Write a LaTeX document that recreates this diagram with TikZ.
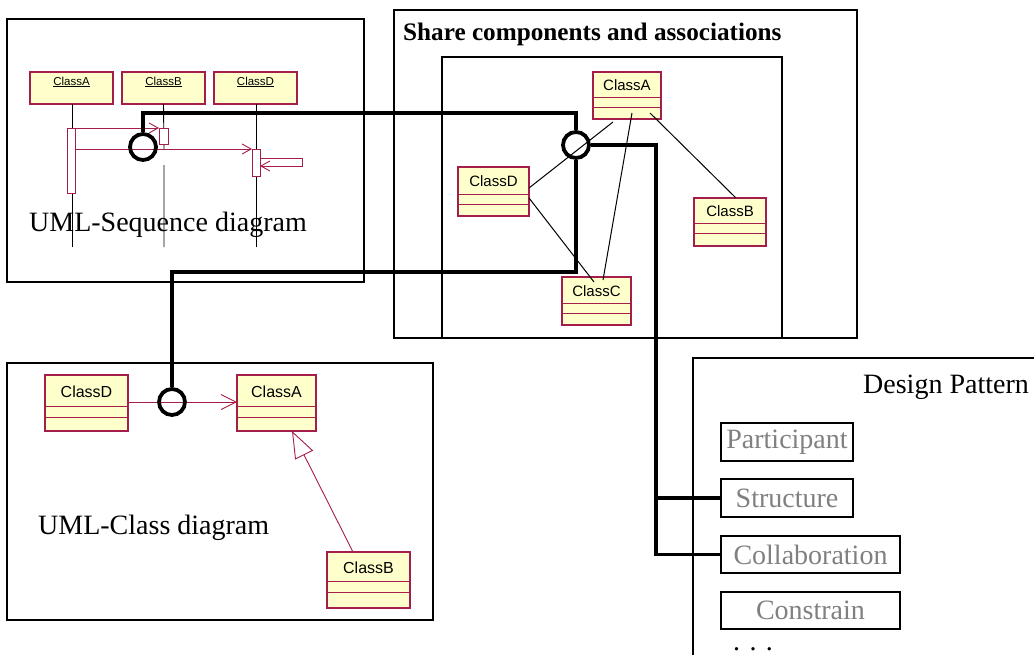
\documentclass[tikz,border=0pt]{standalone}
\usepackage{fontspec}
\setmainfont{Liberation Serif}
\setsansfont{Liberation Sans}
\usetikzlibrary{arrows.meta,calc}
\definecolor{umlred}{RGB}{165,30,75}
\definecolor{umlfill}{RGB}{255,255,204}
\definecolor{dpgray}{RGB}{128,128,128}
\tikzset{
  frame/.style={draw=black,line width=1.1pt},
  clsbox/.style={draw=umlred,fill=umlfill,line width=1.1pt,inner sep=0pt,outer sep=0pt,rectangle},
  clsline/.style={draw=umlred,line width=0.9pt},
  clstext/.style={font=\sffamily\fontsize{16}{18}\selectfont,inner sep=0pt},
  seqtext/.style={font=\sffamily\fontsize{11.5}{13}\selectfont,inner sep=0pt},
  actbox/.style={draw=umlred,fill=white,line width=1pt,inner sep=0pt,outer sep=0pt,rectangle},
  msg/.style={draw=umlred,line width=0.9pt,-{Straight Barb[length=9pt,width=10pt]}},
  life/.style={draw=black,line width=0.9pt},
  assoc/.style={draw=black,line width=1pt},
  hub/.style={circle,draw=black,line width=3.8pt,minimum size=26pt,inner sep=0pt},
  link/.style={draw=black,line width=3.8pt},
  big/.style={font=\fontsize{28}{30}\selectfont,inner sep=0pt},
  dpbox/.style={draw=black,line width=1.2pt,text=dpgray,font=\fontsize{28}{30}\selectfont,inner sep=0pt,rectangle},
}
\newcommand\umlclass[9]{%
  \node[clsbox,minimum width={#4-#2},minimum height={#5-#3}] (#1) at ({(#2+#4)/2},{(#3+#5)/2}) {};
  \draw[clsline] (#1.west |- 0,#6) -- (#1.east |- 0,#6) (#1.west |- 0,#7) -- (#1.east |- 0,#7);
  \node[clstext,#9] at ({(#2+#4)/2},{(#3+#6)/2+1}) {#8};
}
\begin{document}
\begin{tikzpicture}[x=1pt,y=-1pt]
\useasboundingbox (0,0) rectangle (1034,654);
\fill[white] (0,0) rectangle (1034,654);

% ---------- frames ----------
\draw[frame] (7,19) rectangle (364,282);
\draw[frame] (394,10) rectangle (857,338);
\draw[frame] (442,57) rectangle (782,338);
\draw[frame] (7,363) rectangle (433,620);
\draw[frame] (693,670) -- (693,358) -- (1040,358);

% ---------- titles ----------
\node[big,anchor=base west] (tseq) at (29,231) {UML-Sequence diagram};
\node[big,anchor=base west] (tcls) at (38,534) {UML-Class diagram};
\node[font=\bfseries\fontsize{25.2}{27}\selectfont,inner sep=0pt,anchor=base west] (tshare) at (403,40) {Share components and associations};
\node[big,anchor=base west] (tdp) at (863,393) {Design Pattern};

% ---------- sequence diagram ----------
\node[clsbox,minimum width=83,minimum height=32] (qA) at (71.5,88) {};
\node[clsbox,minimum width=83,minimum height=32] (qB) at (163.5,88) {};
\node[clsbox,minimum width=83,minimum height=32] (qD) at (255.5,88) {};
\node[seqtext] at (71.5,82) {\underline{ClassA}};
\node[seqtext] at (163.5,82) {\underline{ClassB}};
\node[seqtext] at (255.5,82) {\underline{ClassD}};
\coordinate (lA) at (72,247);
\coordinate (lD) at (256,247);
\draw[life] (qA.south -| lA) -- (lA);
\draw[life] (qB.south) -- (164,150) (164,165) -- (164,247);
\draw[life] (qD.south -| lD) -- (lD);
\node[actbox,minimum width=8,minimum height=65] (aA) at (71,160.5) {};
\node[actbox,minimum width=9,minimum height=16] (aB) at (163.5,136) {};
\node[actbox,minimum width=8,minimum height=27] (aD) at (256,162.5) {};
\draw[msg] (aA.north east) -- (aB.north west);
\draw[msg] (aA.east |- aD.north) -- (aD.north west);
\draw[msg] ([yshift=4.5pt]aD.east) -- ++(42,0) -- ++(0,8) -- ([yshift=-3.5pt]aD.east);

% ---------- share components ----------
\umlclass{sA}{593}{72}{661}{119}{97}{107}{ClassA}{font=\sffamily\fontsize{15}{17}\selectfont}
\umlclass{sD}{458}{167}{529}{216}{194}{204}{ClassD}{font=\sffamily\fontsize{15}{17}\selectfont}
\umlclass{sB}{694}{198}{766}{246}{223}{233}{ClassB}{font=\sffamily\fontsize{15}{17}\selectfont}
\umlclass{sC}{562}{277}{631}{325}{303}{313}{ClassC}{font=\sffamily\fontsize{15}{17}\selectfont}
\draw[assoc] ([yshift=3.5pt]sD.east) -- ([xshift=-14pt,yshift=-3pt]sA.south);
\draw[assoc] ([yshift=-6.5pt]sD.east) -- ([xshift=-2.5pt,yshift=-5pt]sC.north);
\draw[assoc] ([xshift=5pt,yshift=6pt]sA.south) -- ([xshift=6.5pt,yshift=-3pt]sC.north);
\draw[assoc] ([xshift=23pt,yshift=6pt]sA.south) -- ([xshift=6pt]sB.north);

% ---------- class diagram ----------
\umlclass{cD}{45}{375}{128}{431}{406}{417}{ClassD}{}
\umlclass{cA}{237}{375}{316}{431}{406}{417}{ClassA}{}
\umlclass{cB}{327}{552}{410}{608}{581}{592}{ClassB}{}
\draw[clsline,-{Straight Barb[length=15pt,width=15pt]}] (cD.east |- 0,402) -- (cA.west |- 0,402);
\draw[clsline,-{Triangle[open,length=27pt,width=20pt,fill=white]}] ([xshift=-15.5pt]cB.north) -- ([xshift=15.5pt]cA.south);

% ---------- design pattern ----------
\node[dpbox,minimum width=132,minimum height=38] (dpP) at (787,442) {Participant};
\node[dpbox,minimum width=132,minimum height=38] (dpS) at (787,498) {Structure};
\node[dpbox,minimum width=179,minimum height=37] (dpC) at (810.5,554.5) {Collaboration};
\node[dpbox,minimum width=179,minimum height=37] (dpK) at (810.5,610.5) {Constrain};
\node[big,anchor=base west] (dots) at (733,650) {. . .};

% ---------- thick links ----------
\node[hub] (h1) at (143,147) {};
\node[hub] (h2) at (576,145) {};
\node[hub] (h3) at (172,402) {};
\coordinate (jS) at (656,498);
\draw[link] (h1.north) -- (h1.north |- 0,113) -| (h2.north);
\draw[link] (h2.south) -- (h2.south |- 0,272) -| (h3.north);
\draw[link] (h2.east) -| (jS) |- (dpC.west);
\draw[link] (jS) -- (dpS.west);
\end{tikzpicture}
\end{document}
